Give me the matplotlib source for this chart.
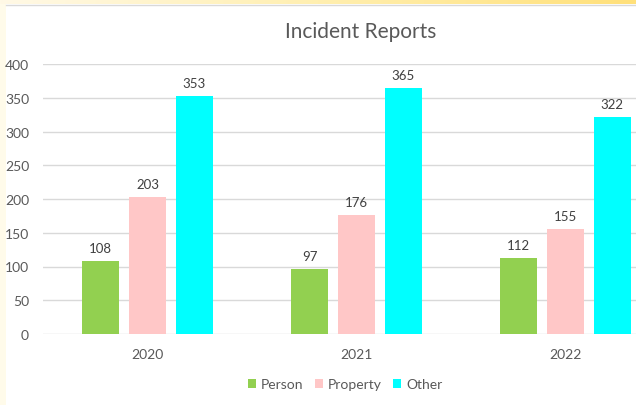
import matplotlib
matplotlib.use("Agg")
import matplotlib.pyplot as plt
import numpy as np
from matplotlib.colors import LinearSegmentedColormap

years = ["2020", "2021", "2022"]
series_names = ["Person", "Property", "Other"]
person = [108, 97, 112]
property_ = [203, 176, 155]
other = [353, 365, 322]
colors = ["#92D050", "#FFC7C7", "#00FFFF"]
yticks = [0, 50, 100, 150, 200, 250, 300, 350, 400]

plt.rcParams['font.family'] = ['Lato', 'DejaVu Sans']
W, H = 636, 406
fig = plt.figure(figsize=(W/100, H/100), dpi=100)
fig.patch.set_facecolor("white")

# left light strip
fig.add_artist(plt.Rectangle((0, 0), 6/W, 1, transform=fig.transFigure,
                             facecolor="#FFFBEA", edgecolor="none", zorder=0))
# top gradient bar
gax = fig.add_axes([0, 1-5/H, 1, 5/H])
grad = np.linspace(0, 1, 256).reshape(1, -1)
cmap = LinearSegmentedColormap.from_list("g", ["#FFF9E6", "#FFEFB0", "#FFE07A"])
gax.imshow(grad, aspect="auto", cmap=cmap)
gax.axis("off")
fig.add_artist(plt.Line2D([6/W, 1], [1-5.5/H, 1-5.5/H], transform=fig.transFigure,
                          color="#D9D9D9", lw=1))

ax = fig.add_axes([43/W, 71/H, (W-43)/W, 270/H])
ax.set_facecolor("none")
x = np.arange(len(years))
bw = 0.178
step = 0.224
data = [person, property_, other]
for i, (name, vals, c) in enumerate(zip(series_names, data, colors)):
    pos = x + (i-1)*step
    ax.bar(pos, vals, width=bw, color=c, label=name, zorder=3)
    for p, v in zip(pos, vals):
        ax.annotate(str(v), (p, v), xytext=(0, 5), textcoords="offset points",
                    ha="center", va="bottom", fontsize=9.5, color="#404040")

ax.set_xlim(-0.5, (W-43)/209 - 0.5)
ax.set_ylim(0, 400)
ax.set_yticks(yticks)
ax.set_xticks(x)
ax.set_xticklabels(years)
ax.tick_params(axis="both", length=0, labelsize=10, labelcolor="#595959")
ax.tick_params(axis="x", pad=10)
ax.tick_params(axis="y", pad=10)
ax.grid(axis="y", color="#D9D9D9", lw=1, zorder=0)
for s in ax.spines.values():
    s.set_visible(False)

fig.text(361/W, 1-32/H, "Incident Reports", ha="center", va="center",
         fontsize=15, color="#595959")

leg = fig.legend(loc="center", bbox_to_anchor=(345/W, 1-385/H), ncol=3, frameon=False,
                 fontsize=10, handlelength=0.6, handleheight=0.6, handletextpad=0.35,
                 columnspacing=0.8)
for t in leg.get_texts():
    t.set_color("#595959")

fig.savefig("out.png", dpi=100)
